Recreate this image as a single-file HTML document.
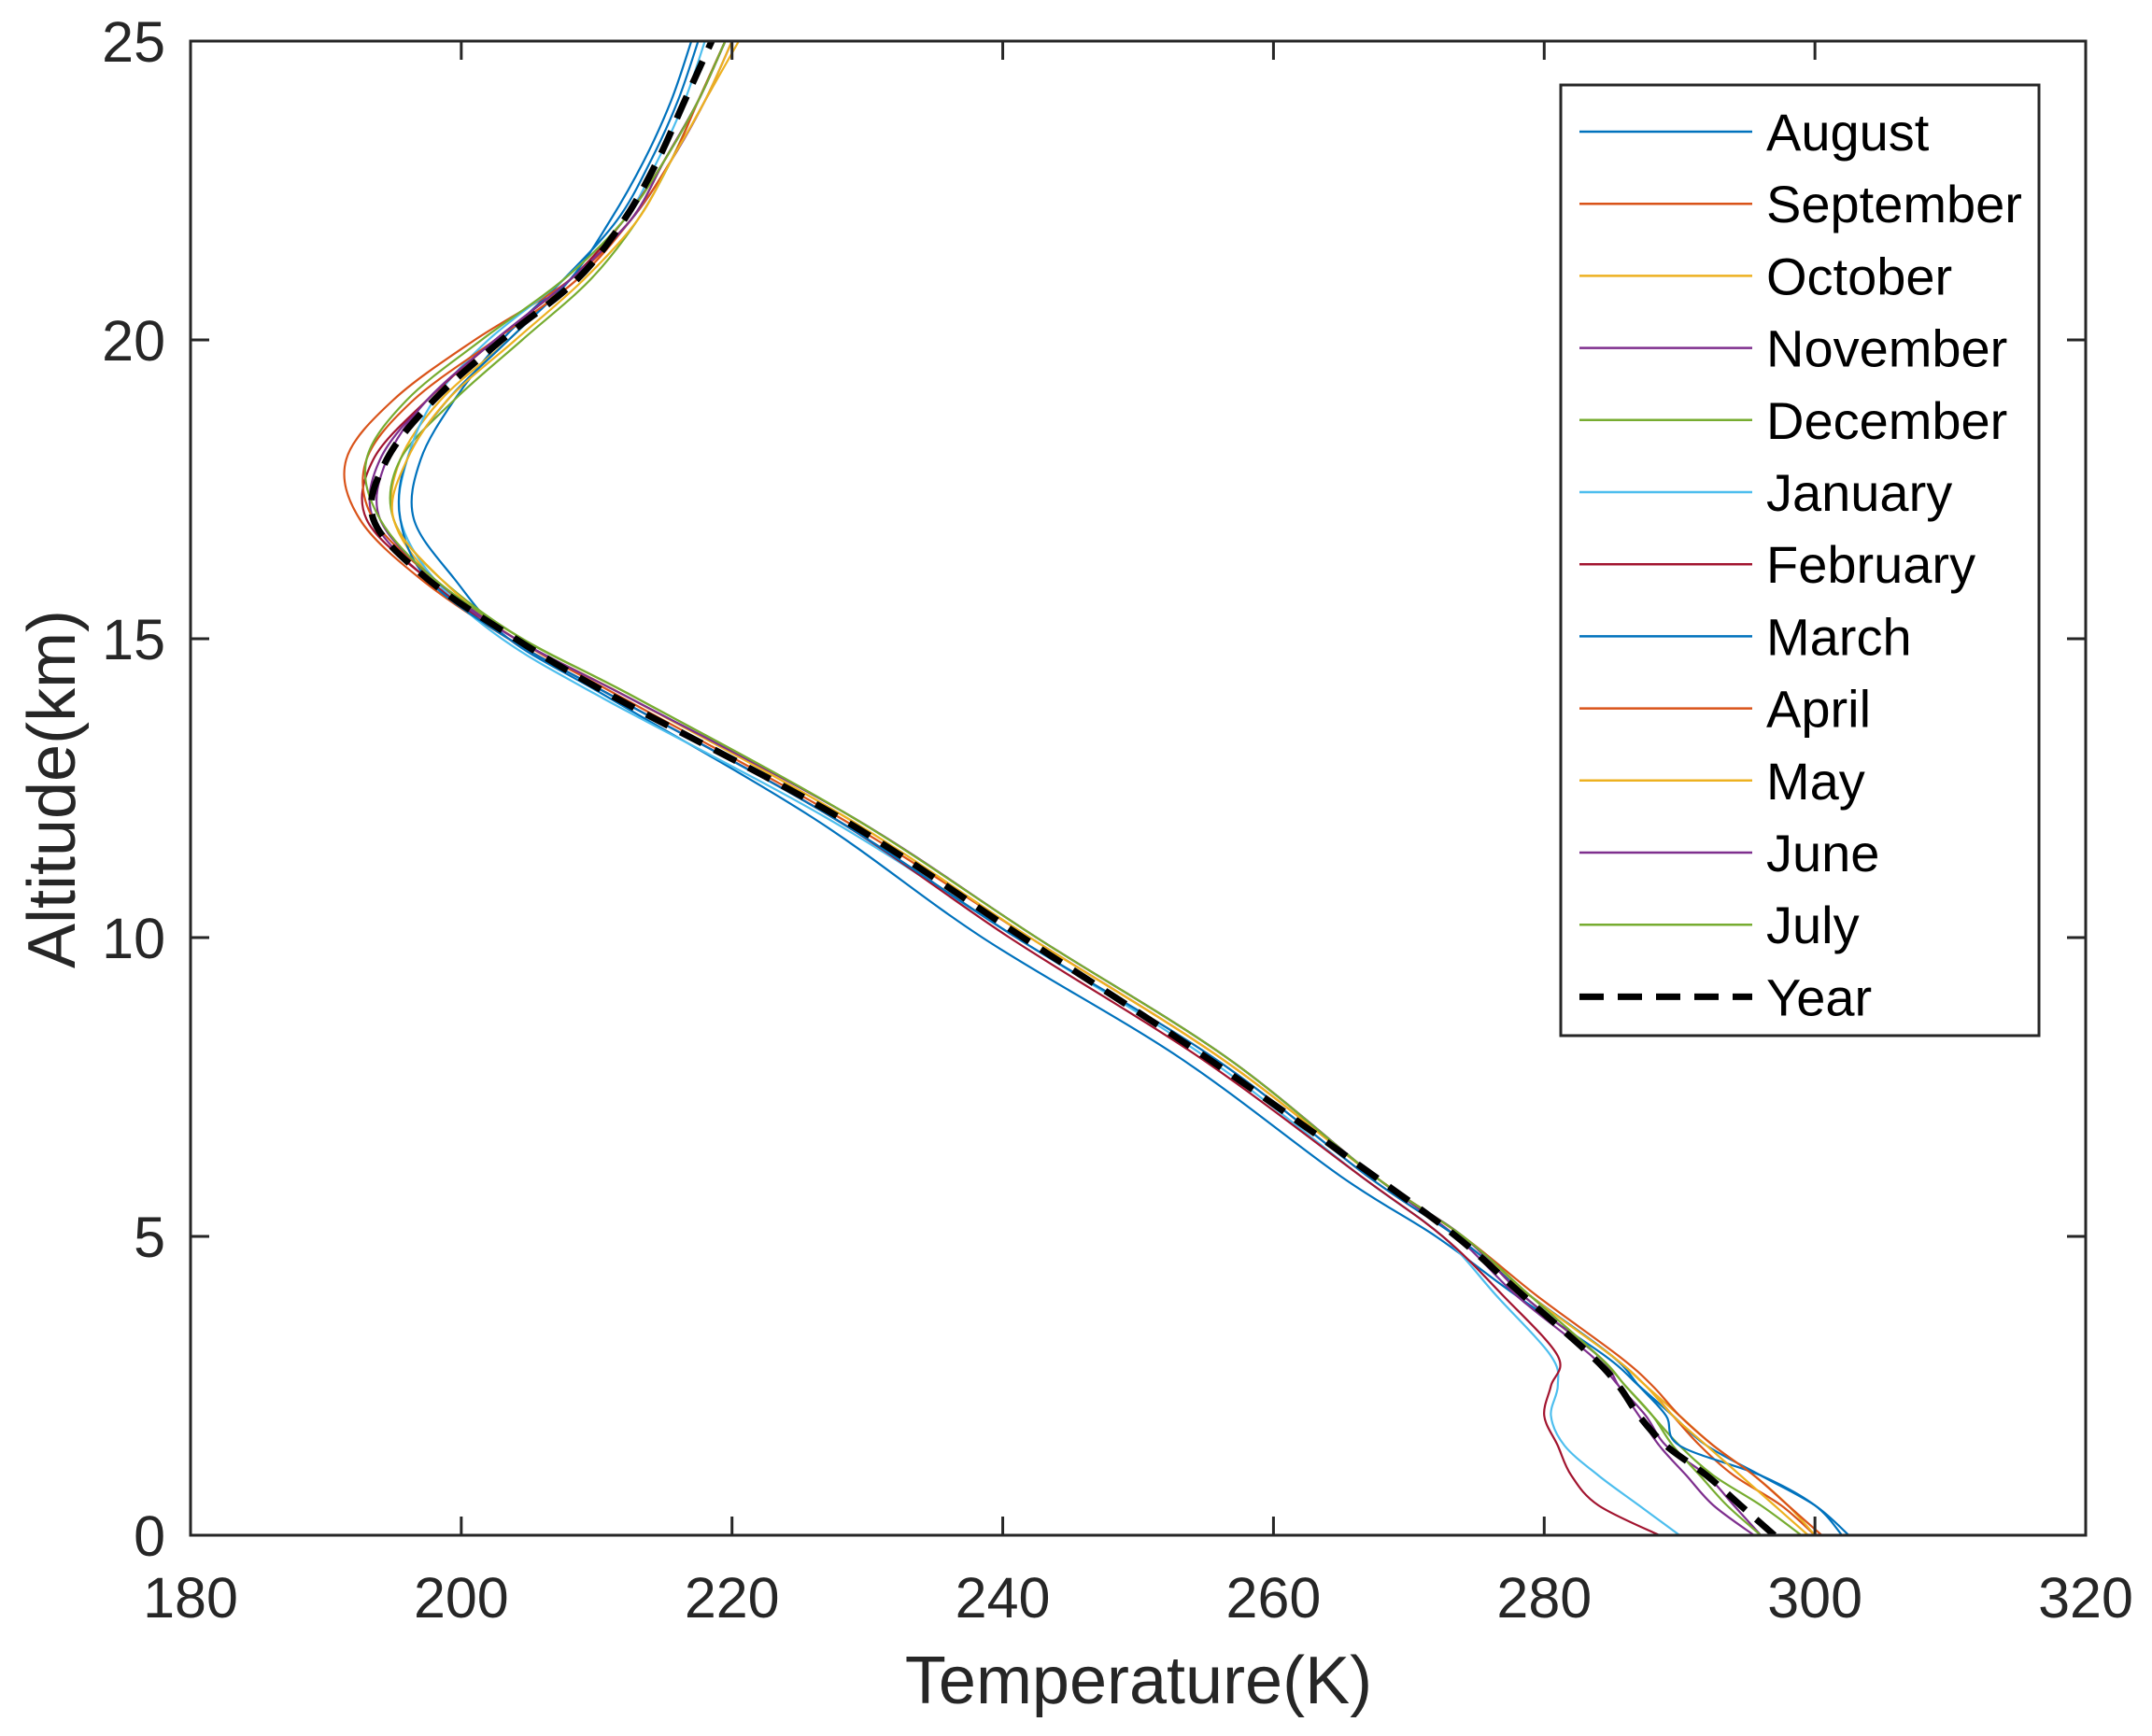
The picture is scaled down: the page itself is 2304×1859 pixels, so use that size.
<!DOCTYPE html>
<html><head><meta charset="utf-8"><style>
body{margin:0;background:#fff}
svg{display:block;font-family:"Liberation Sans",Arial,sans-serif}
</style></head><body>
<svg id="chart" width="2304" height="1859" viewBox="0 0 2304 1859" xmlns="http://www.w3.org/2000/svg">
<rect width="2304" height="1859" fill="#fff"/>
<g id="plot"></g>
<g id="axes"></g>
<g id="legend"></g>
</svg>
<script>
const altitudes=[0,0.5,1,1.5,2,2.5,3,4,5,6,8,10,12,14,15,16,17,18,19,20,21,22,23,24,25];
const monthNames=["August","September","October","November","December","January","February","March","April","May","June","July"];
const aug=[302.5,300,296,292,289.5,287,284.5,278,272,265,253,238.5,226,211,203.5,199.5,196.5,197,199.5,203,207.5,211.5,214,216,217.5];
const sep=[300,297.5,294,291.5,289.5,287.5,285,279,273.5,267,255.5,241,227.5,211.5,203.5,197,192.5,191.5,195,201,208,212.5,215,217.5,219.5];
const oct=[300,298,295.5,292.5,290,287.5,285,279,274,267.5,256,242,228.5,212.5,204,198,195,195.5,198.5,203.5,208,212.5,215.5,218,220.5];
const nov=[296,294,292,289,287.5,285.5,283.5,278,273.5,267.5,256.5,242.5,229,212.5,204,197.5,193.5,194,197.5,202.5,208,212.5,215.5,218,220];
const dec=[299,296,292.5,290,288,286,284,278.5,274,267.5,256.5,242.5,229,213,204.5,198.5,195,195.5,199.5,204.5,209.5,213,215.5,217.5,219.5];
const jan=[290,287,284,281.5,280.5,281,280.5,276.5,272.5,266.5,255,241,227,210.5,203,198,195.5,196,198,202,207.5,212,214.5,216.5,218];
const feb=[288.5,284,282,281,280,280.5,281,277,272.5,266.5,254.5,240.5,227.5,211.5,203.5,197.5,193,193.5,197.5,202.5,208,212,215,217.5,219.5];
const mar=[302,300,296,290,289,287,285,279,273.5,267,255.5,241,227.5,211.5,203.5,197.5,195.5,196,199,203.5,208,211,213.5,215.5,217];
const apr=[300.5,298,295.5,292.5,290,288,285.5,279.5,274,267.5,256,242,228,212,204,198,193.5,193,196.5,202.5,208.5,212.5,215.5,217.5,219.5];
const may=[299.5,297,294.5,292,289.5,287.5,285,279,274,267.5,256,242,228.5,212.5,204,198.5,195,196,199,204,209,213,215.5,218,220];
const jun=[295.5,292.5,290.5,288.5,287,285.5,284,278.5,274,267.5,256.5,242.5,229,212.5,204,198,194,194.5,197.5,202.5,208,212.5,215,217.5,219.5];
const jul=[296,293.5,291.5,289.5,288,286,284,279,274,267.5,256.5,242.5,229,213,204.5,198,194,193,196,201.5,207.5,212,215,217.5,219.5];
const year=[297,294.5,292,289,287,285.5,283.5,278.5,273.5,267.5,255,241.5,228,211.5,204,197.5,193.5,194.5,198,203,208.5,212,214.5,216.5,218.5];
const xTicks=[180,200,220,240,260,280,300,320];
const yTicks=[0,5,10,15,20,25];
const monthSeries=[aug,sep,oct,nov,dec,jan,feb,mar,apr,may,jun,jul];
const colors=["#0072BD","#D95319","#EDB120","#7E2F8E","#77AC30","#4DBEEE","#A2142F","#0072BD","#D95319","#EDB120","#7E2F8E","#77AC30"];

const L=204,R=2233,T=44,B=1644;
const xS=v=>L+(v-180)/(320-180)*(R-L);
const yS=v=>B-(v-0)/25*(B-T);
const NS="http://www.w3.org/2000/svg";
function mk(tag,attrs,parent){const e=document.createElementNS(NS,tag);for(const k in attrs)e.setAttribute(k,attrs[k]);parent.appendChild(e);return e;}
function pathFor(temps){
  const p=temps.map((t,i)=>[xS(t),yS(altitudes[i])]);
  let d="M"+p[0][0].toFixed(1)+","+p[0][1].toFixed(1);
  for(let i=0;i<p.length-1;i++){
    const p0=p[Math.max(0,i-1)],p1=p[i],p2=p[i+1],p3=p[Math.min(p.length-1,i+2)];
    const c1=[p1[0]+(p2[0]-p0[0])/6,p1[1]+(p2[1]-p0[1])/6];
    const c2=[p2[0]-(p3[0]-p1[0])/6,p2[1]-(p3[1]-p1[1])/6];
    d+=" C"+c1.map(v=>v.toFixed(1))+" "+c2.map(v=>v.toFixed(1))+" "+p2.map(v=>v.toFixed(1));
  }
  return d;
}
const plot=document.getElementById("plot");
mk("clipPath",{id:"clip"},plot);
mk("rect",{x:L,y:T,width:R-L,height:B-T},document.getElementById("clip"));
const g=mk("g",{"clip-path":"url(#clip)"},plot);
monthSeries.forEach((s,i)=>{
  const el=mk("path",{d:pathFor(s),fill:"none",stroke:colors[i],"stroke-width":2.2},g);
  
  
});
const yl=mk("path",{d:pathFor(year),fill:"none",stroke:"#000","stroke-width":7,"stroke-dasharray":"26 15"},g);



const ax=document.getElementById("axes");
const box=mk("rect",{x:L,y:T,width:R-L,height:B-T,fill:"none",stroke:"#262626","stroke-width":3},ax);


xTicks.forEach(v=>{
  const x=xS(v);
  mk("line",{x1:x,x2:x,y1:B,y2:B-20,stroke:"#262626","stroke-width":3},ax);
  mk("line",{x1:x,x2:x,y1:T,y2:T+20,stroke:"#262626","stroke-width":3},ax);
  const t=mk("text",{x:x,y:1732,"text-anchor":"middle","font-size":61,fill:"#262626"},ax);
  t.textContent=v;
  
  
});
yTicks.forEach(v=>{
  const y=yS(v);
  mk("line",{x1:L,x2:L+20,y1:y,y2:y,stroke:"#262626","stroke-width":3},ax);
  mk("line",{x1:R,x2:R-20,y1:y,y2:y,stroke:"#262626","stroke-width":3},ax);
  const t=mk("text",{x:177,y:y+22,"text-anchor":"end","font-size":61,fill:"#262626"},ax);
  t.textContent=v;
  
  
});
const xt=mk("text",{x:1219,y:1824,"text-anchor":"middle","font-size":72,fill:"#262626"},ax);
xt.textContent="Temperature(K)";


const yt=mk("text",{x:0,y:0,"text-anchor":"middle","font-size":72,fill:"#262626",transform:"translate(80,845) rotate(-90)"},ax);
yt.textContent="Altitude(km)";



const lg=document.getElementById("legend");


mk("rect",{x:1671,y:91,width:512,height:1018,fill:"#fff",stroke:"#262626","stroke-width":3},lg);
const names=monthNames.concat(["Year"]);
names.forEach((n,i)=>{
  const y=141+i*77.2;
  const isYear=i===12;
  mk("line",{x1:1691,x2:1876,y1:y,y2:y,stroke:isYear?"#000":colors[i],"stroke-width":isYear?7:2.5,"stroke-dasharray":isYear?"26 15":"none"},lg);
  const t=mk("text",{x:1891,y:y+20,"font-size":56,fill:"#000"},lg);
  t.textContent=n;
  
  
});
</script>
</body></html>
